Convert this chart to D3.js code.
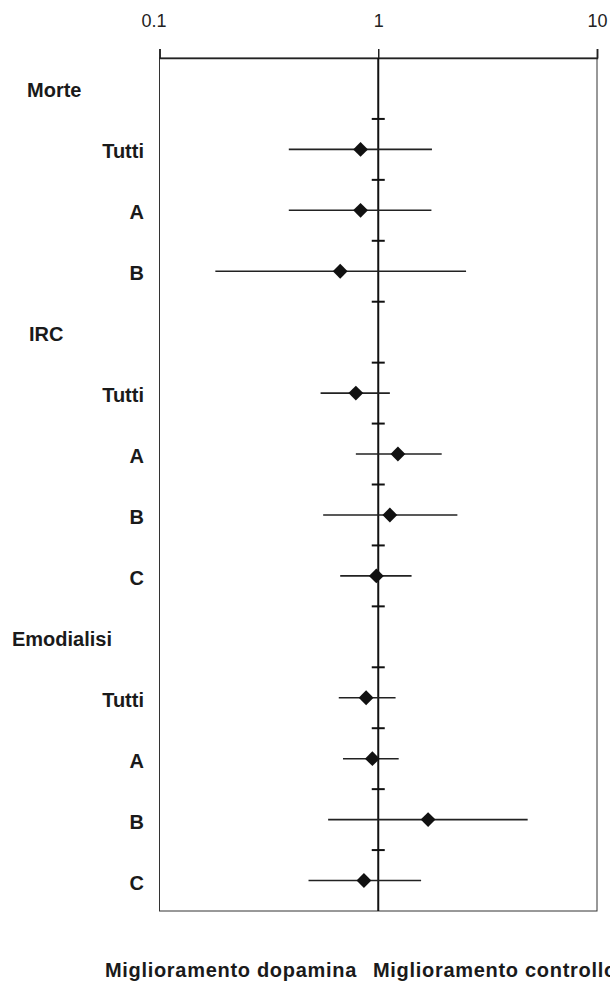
<!DOCTYPE html>
<html>
<head>
<meta charset="utf-8">
<script src="https://cdn.jsdelivr.net/npm/d3@7"></script>
<style>
  body { margin: 0; background: #fff; }
  svg { display: block; font-family: "Liberation Sans", Arial, Helvetica, sans-serif; }
</style>
</head>
<body>
<div id="chart"></div>
<script>
// gruppi e sottogruppi (ordine delle righe)
var groups = ["Morte", "IRC", "Emodialisi"];
var subgroups = [["Tutti", "A", "B"], ["Tutti", "A", "B", "C"], ["Tutti", "A", "B", "C"]];

// stime e intervalli di confidenza, nell'ordine delle righe dei sottogruppi
var estimate = [0.83, 0.83, 0.67, 0.79, 1.23, 1.13, 0.98, 0.88, 0.94, 1.69, 0.86];
var lower    = [0.39, 0.39, 0.18, 0.545, 0.79, 0.56, 0.67, 0.66, 0.69, 0.59, 0.48];
var upper    = [1.76, 1.75, 2.52, 1.13, 1.95, 2.30, 1.42, 1.20, 1.24, 4.82, 1.57];

var tickValues = [0.1, 1, 10];
var tickLabels = ["0.1", "1", "10"];
var footLeft = "Miglioramento dopamina";
var footRight = "Miglioramento controllo";

var width = 610, height = 986;
var plot = {top: 58, bottom: 911, left: 159.5, right: 597};
// rientro dei titoli di gruppo
var groupX = [27, 29, 12];

var svg = d3.select("#chart").append("svg")
    .attr("width", width)
    .attr("height", height);

// costruzione righe
var rows = [], k = 0;
groups.forEach(function(g, gi){
    rows.push({label: g, heading: true, gi: gi});
    subgroups[gi].forEach(function(s){
        rows.push({label: s, heading: false, est: estimate[k], lo: lower[k], hi: upper[k]});
        k++;
    });
});

var x = d3.scaleLog().domain([0.1, 10]).range([plot.left, plot.right]);
var y = d3.scaleBand().domain(d3.range(rows.length)).range([plot.top, plot.bottom]);
var yc = function(i){ return y(i) + y.bandwidth() / 2; };

// cornice
svg.append("rect")
    .attr("x", plot.left).attr("y", plot.top)
    .attr("width", plot.right - plot.left)
    .attr("height", plot.bottom - plot.top)
    .attr("fill", "none")
    .attr("stroke", "#333")
    .attr("stroke-width", 1);

// asse superiore
var axis = svg.append("g")
    .attr("transform", "translate(0," + plot.top + ")")
    .call(d3.axisTop(x)
        .tickValues(tickValues)
        .tickSize(9)
        .tickPadding(22)
        .tickFormat(function(d, i){ return tickLabels[i]; }));
axis.select(".domain").attr("stroke", "#222").attr("stroke-width", 1.5);
axis.selectAll(".tick line").attr("stroke", "#222").attr("stroke-width", 1.5);
axis.selectAll(".tick text")
    .attr("fill", "#222")
    .style("font-size", "18px")
    .attr("dx", function(d, i){ return i === 0 ? -6 : 0; });

// linea di non effetto
svg.append("line")
    .attr("x1", x(1)).attr("x2", x(1))
    .attr("y1", plot.top).attr("y2", plot.bottom)
    .attr("stroke", "#111")
    .attr("stroke-width", 2);

// tacche tra le righe
svg.selectAll(".rowtick")
    .data(d3.range(1, rows.length))
    .enter().append("line")
    .attr("class", "rowtick")
    .attr("x1", x(1) - 6.5).attr("x2", x(1) + 6.5)
    .attr("y1", function(d){ return y(d); })
    .attr("y2", function(d){ return y(d); })
    .attr("stroke", "#111")
    .attr("stroke-width", 2);

// etichette
svg.selectAll(".label")
    .data(rows)
    .enter().append("text")
    .attr("class", "label")
    .attr("x", function(d){ return d.heading ? groupX[d.gi] : 144; })
    .attr("y", function(d, i){ return yc(i); })
    .attr("dy", "0.45em")
    .attr("text-anchor", function(d){ return d.heading ? "start" : "end"; })
    .style("font-size", "20px")
    .style("font-weight", "bold")
    .attr("fill", "#1a1a1a")
    .text(function(d){ return d.label; });

var data = rows.map(function(d, i){ d.i = i; return d; }).filter(function(d){ return !d.heading; });

// intervalli di confidenza
svg.selectAll(".ci")
    .data(data)
    .enter().append("line")
    .attr("class", "ci")
    .attr("x1", function(d){ return x(d.lo); })
    .attr("x2", function(d){ return x(d.hi); })
    .attr("y1", function(d){ return yc(d.i); })
    .attr("y2", function(d){ return yc(d.i); })
    .attr("stroke", "#222")
    .attr("stroke-width", 1.6);

// stime puntuali
var diamond = d3.symbol().type(d3.symbolSquare).size(110);
svg.selectAll(".est")
    .data(data)
    .enter().append("path")
    .attr("class", "est")
    .attr("d", diamond)
    .attr("transform", function(d){ return "translate(" + x(d.est) + "," + yc(d.i) + ") rotate(45)"; })
    .attr("fill", "#111");

// didascalie in basso
svg.append("text")
    .attr("x", 357).attr("y", 977)
    .attr("text-anchor", "end")
    .style("font-size", "20px")
    .style("font-weight", "bold")
    .style("letter-spacing", "0.7px")
    .attr("fill", "#1a1a1a")
    .text(footLeft);
svg.append("text")
    .attr("x", 373).attr("y", 977)
    .style("font-size", "20px")
    .style("font-weight", "bold")
    .style("letter-spacing", "0.7px")
    .attr("fill", "#1a1a1a")
    .text(footRight);
</script>
</body>
</html>
